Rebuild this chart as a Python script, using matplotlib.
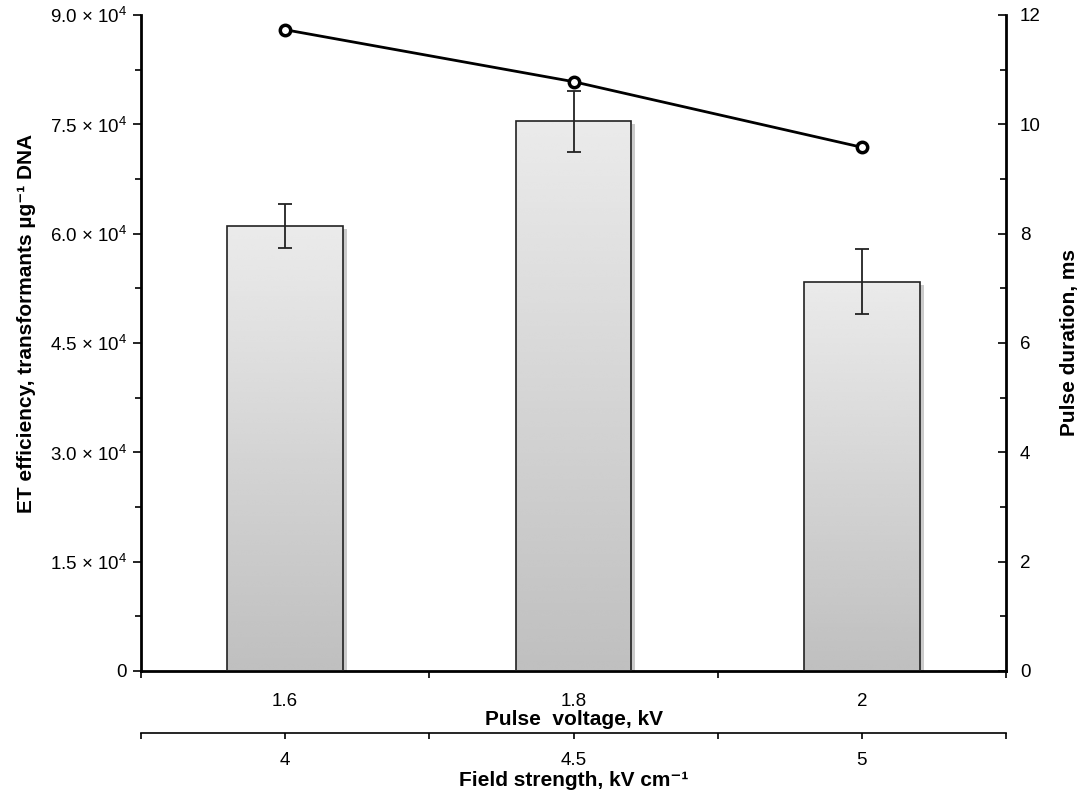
import numpy as np
import matplotlib
matplotlib.use("Agg")
from matplotlib import pyplot as plt
from matplotlib.ticker import FixedLocator, FuncFormatter, MultipleLocator
import matplotlib.patheffects as pe

plt.rcParams["font.family"] = ["Liberation Sans", "DejaVu Sans"]
plt.rcParams["mathtext.fontset"] = "custom"
plt.rcParams["mathtext.rm"] = "Liberation Sans"
plt.rcParams["mathtext.bf"] = "Liberation Sans:bold"

voltages = ["1.6", "1.8", "2"]
field_strengths = ["4", "4.5", "5"]
efficiency = [61000, 75400, 53400]
efficiency_err = [3000, 4200, 4450]
pulse_duration = [11.73, 10.78, 9.58]

x = np.arange(len(voltages))
TICK_FS = 13.5
LABEL_FS = 15

fig = plt.figure(figsize=(10.87, 8.01), dpi=100)
ax = fig.add_axes([0.1297, 0.1623, 0.7958, 0.819])

# bars with vertical gradient
bars = ax.bar(x, efficiency, width=0.4, color="none", edgecolor="#222222", linewidth=1.2, zorder=3)
grad = np.linspace(0.92, 0.75, 256).reshape(-1, 1)
for b in bars:
    bx, by = b.get_x(), b.get_y()
    bw, bh = b.get_width(), b.get_height()
    shadow = plt.Rectangle((bx, by), bw, bh, facecolor="#bbbbbb", edgecolor="none", zorder=1,
                           path_effects=[pe.SimplePatchShadow(offset=(3, -2), shadow_rgbFace="#999999", alpha=0.5)])
    ax.add_patch(shadow)
    im = ax.imshow(grad, cmap="gray", vmin=0, vmax=1, aspect="auto",
                   extent=(bx, bx + bw, by, by + bh), zorder=2, interpolation="bicubic")
    im.set_clip_path(b)
ax.errorbar(x, efficiency, yerr=efficiency_err, fmt="none", ecolor="#222222", elinewidth=1.3,
            capsize=5, capthick=1.3, zorder=4)

ax.set_xlim(-0.5, 2.5)
ax.set_ylim(0, 90000)
ax.yaxis.set_major_locator(MultipleLocator(15000))
ax.yaxis.set_minor_locator(MultipleLocator(7500))
ax.yaxis.set_major_formatter(FuncFormatter(
    lambda v, p: "0" if v == 0 else f"{v / 1e4:.1f} $\\times$ 10$^{{4}}$"))
ax.xaxis.set_major_locator(FixedLocator(x))
ax.xaxis.set_minor_locator(FixedLocator([-0.5, 0.5, 1.5, 2.5]))
ax.set_xticklabels(voltages)
ax.tick_params(axis="x", which="major", length=0, labelsize=TICK_FS, pad=16)
ax.tick_params(axis="x", which="minor", length=5, width=1.2, direction="out")
ax.tick_params(axis="y", which="major", length=6, width=1.2, labelsize=TICK_FS, pad=4)
ax.tick_params(axis="y", which="minor", length=4, width=1.2)
ax.spines["top"].set_visible(False)
ax.spines["right"].set_visible(False)
ax.spines["left"].set_linewidth(2)
ax.spines["bottom"].set_linewidth(2)
ax.set_xlabel("Pulse  voltage, kV", fontsize=LABEL_FS, fontweight="bold", labelpad=0)
ax.set_ylabel("ET efficiency, transformants µg⁻¹ DNA", fontsize=LABEL_FS,
              fontweight="bold", labelpad=10)
ax.yaxis.label.set_y(0.53)

# pulse duration on right axis
ax2 = ax.twinx()
ax2.plot(x, pulse_duration, color="black", linewidth=2, marker="o", markersize=7.5,
         markerfacecolor="white", markeredgecolor="black", markeredgewidth=2.5, zorder=5)
ax2.set_ylim(0, 12)
ax2.yaxis.set_major_locator(MultipleLocator(2))
ax2.yaxis.set_minor_locator(MultipleLocator(1))
ax2.tick_params(axis="y", which="major", direction="in", length=6, width=1.2, labelsize=TICK_FS, pad=10)
ax2.tick_params(axis="y", which="minor", direction="in", length=4, width=1.2)
for s in ["top", "left", "bottom"]:
    ax2.spines[s].set_visible(False)
ax2.spines["right"].set_linewidth(2)
ax2.set_ylabel("Pulse duration, ms", fontsize=LABEL_FS, fontweight="bold", labelpad=14)

# second x axis: field strength
ax3 = ax.twiny()
ax3.set_xlim(ax.get_xlim())
ax3.xaxis.set_ticks_position("bottom")
ax3.xaxis.set_label_position("bottom")
for s in ["top", "left", "right"]:
    ax3.spines[s].set_visible(False)
ax3.spines["bottom"].set_position(("outward", 45))
ax3.spines["bottom"].set_linewidth(1.2)
ax3.xaxis.set_major_locator(FixedLocator(x))
ax3.xaxis.set_minor_locator(FixedLocator([-0.5, 0.5, 1.5, 2.5]))
ax3.set_xticklabels(field_strengths)
ax3.tick_params(axis="x", which="major", length=4, width=1.2, direction="out", labelsize=TICK_FS, pad=9)
ax3.tick_params(axis="x", which="minor", length=4, width=1.2, direction="out")
ax3.set_xlabel("Field strength, kV cm⁻¹", fontsize=LABEL_FS, fontweight="bold", labelpad=2)

fig.savefig("out.png", dpi=100)
